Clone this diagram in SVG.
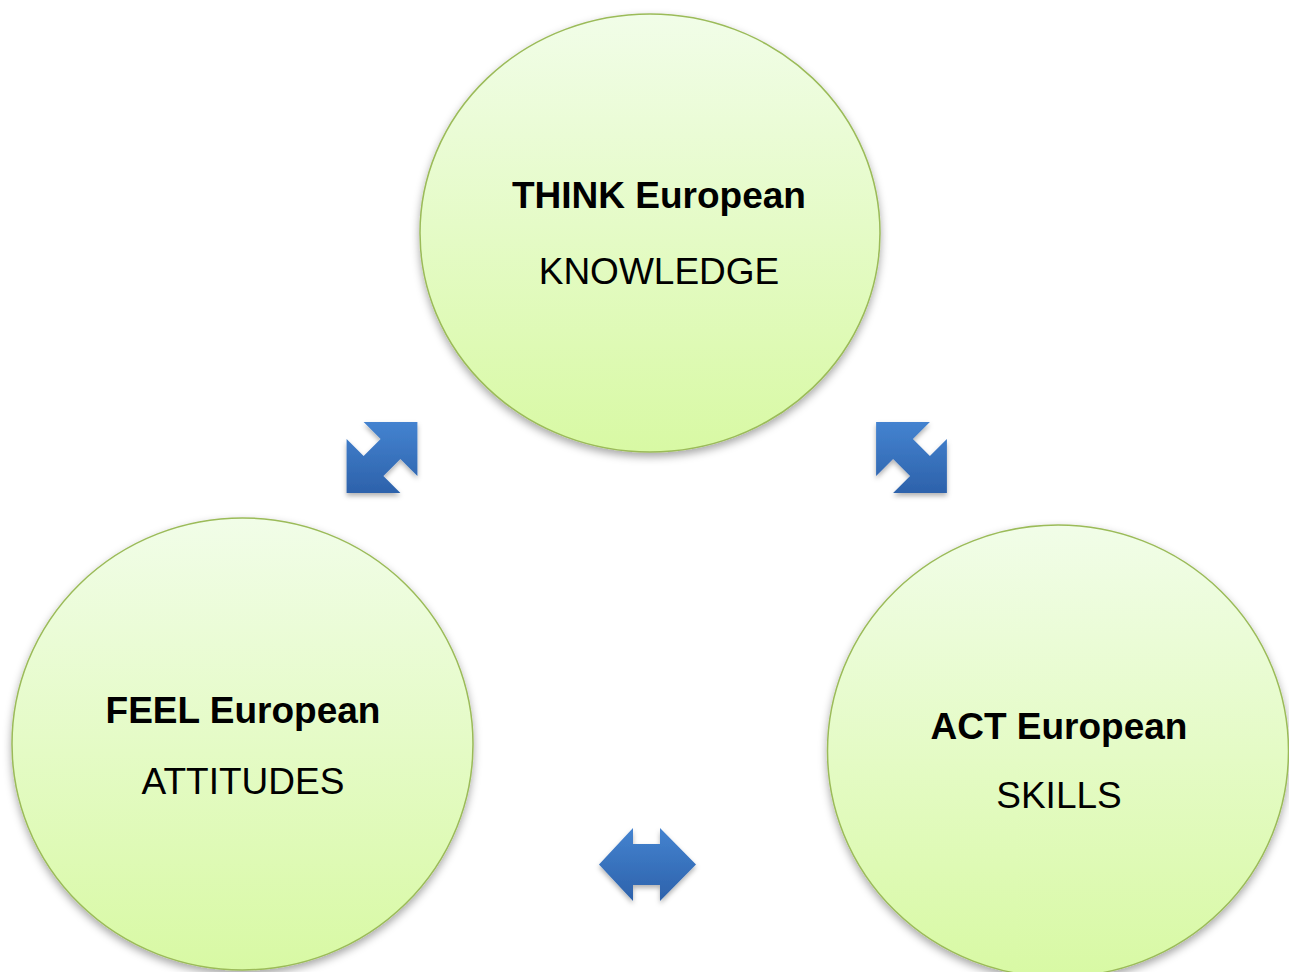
<svg xmlns="http://www.w3.org/2000/svg" width="1289" height="972" viewBox="0 0 1289 972">
<defs>
<linearGradient id="gFill" x1="0" y1="0" x2="0" y2="1">
<stop offset="0" stop-color="#f1fde8"/>
<stop offset="1" stop-color="#d8f9a4"/>
</linearGradient>
<linearGradient id="gArrow" x1="0" y1="0" x2="0" y2="1">
<stop offset="0" stop-color="#4483d0"/>
<stop offset="1" stop-color="#2d62ab"/>
</linearGradient>
<filter id="shCircle" x="-10%" y="-10%" width="120%" height="125%">
<feDropShadow dx="0" dy="4" stdDeviation="4" flood-color="#000" flood-opacity="0.35"/>
</filter>
<filter id="shArrow" x="-20%" y="-20%" width="140%" height="150%">
<feDropShadow dx="0" dy="3" stdDeviation="2.5" flood-color="#000" flood-opacity="0.3"/>
</filter>
</defs>
<style>
.node{fill:url(#gFill);stroke:#9bbb59;stroke-width:1.5;filter:url(#shCircle)}
.t1{font-family:"Liberation Sans",Arial,sans-serif;font-weight:bold;font-size:37px;fill:#000;text-anchor:middle}
.t2{font-family:"Liberation Sans",Arial,sans-serif;font-size:37px;fill:#000;text-anchor:middle}
.arrow{fill:url(#gArrow);filter:url(#shArrow)}
</style>
<rect width="1289" height="972" fill="#fff"/>
<g id="think">
<ellipse class="node" cx="650" cy="233" rx="230" ry="219"/>
<text class="t1" x="659" y="208">THINK European</text>
<text class="t2" x="659" y="284">KNOWLEDGE</text>
</g>
<g id="feel">
<ellipse class="node" cx="242.5" cy="744" rx="230.5" ry="226"/>
<text class="t1" x="243" y="723">FEEL European</text>
<text class="t2" x="243" y="794">ATTITUDES</text>
</g>
<g id="act">
<ellipse class="node" cx="1058" cy="751" rx="230.5" ry="226"/>
<text class="t1" x="1059" y="739">ACT European</text>
<text class="t2" x="1059" y="808">SKILLS</text>
</g>
<g id="connectors">
<path class="arrow" d="M346.6,492.9 L346.6,439.1 L363.6,456.1 L380.6,439.1 L363.6,422.1 L417.4,422.1 L417.4,475.9 L400.4,458.9 L383.4,475.9 L400.4,492.9 Z"/>
<path class="arrow" d="M876.1,422.1 L929.9,422.1 L912.9,439.1 L929.9,456.1 L946.9,439.1 L946.9,492.9 L893.1,492.9 L910.1,475.9 L893.1,458.9 L876.1,475.9 Z"/>
<path class="arrow" d="M599,864.5 L633,828 L633,844 L660,844 L660,828 L696,864.5 L660,901 L660,885 L633,885 L633,901 Z"/>
</g>
</svg>
